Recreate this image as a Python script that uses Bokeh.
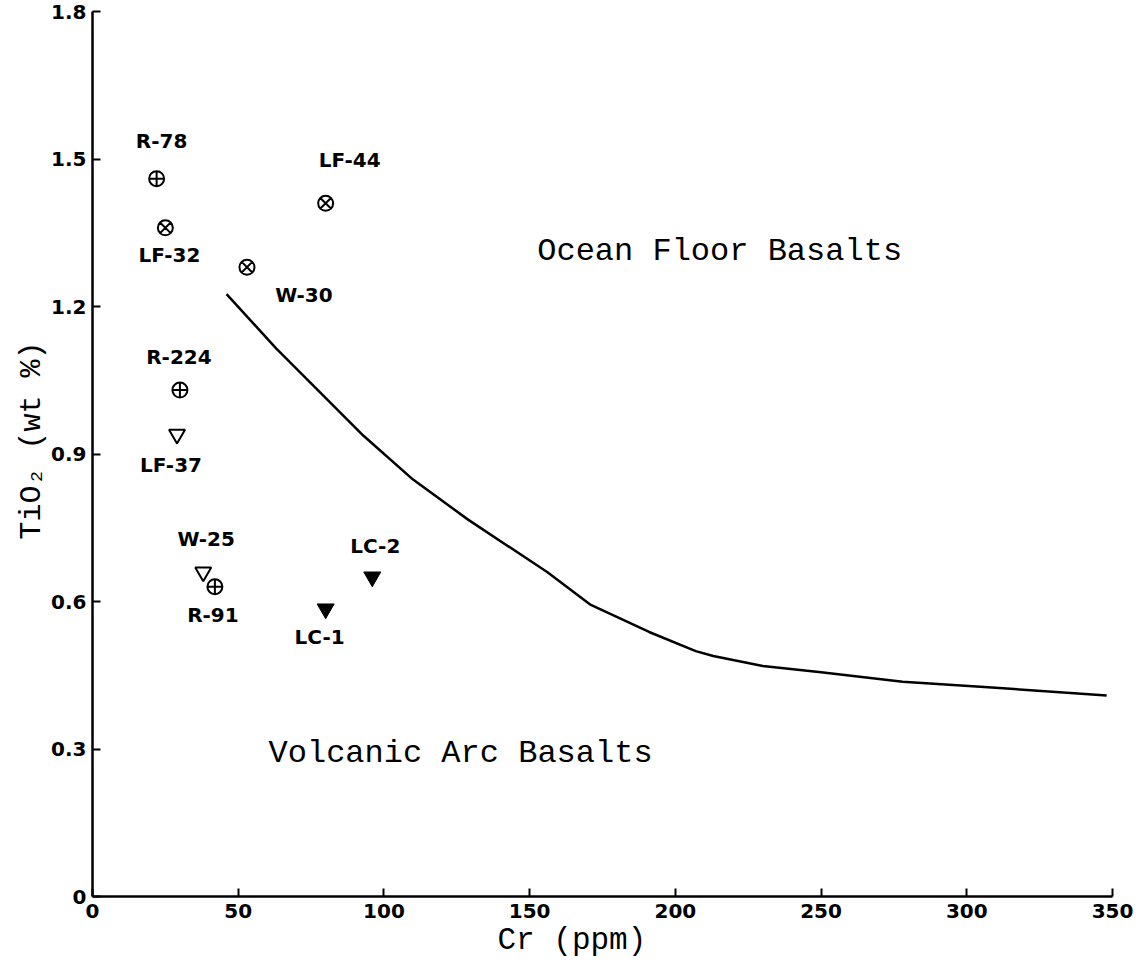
from bokeh.plotting import figure
from bokeh.models import Range1d, FixedTicker, Label, ColumnDataSource, Title
from bokeh.core.properties import value
from bokeh.embed import file_html
from bokeh.resources import INLINE

# ---- data -------------------------------------------------------------
sample_names = ["R-78", "LF-32", "W-30", "LF-44", "R-224", "LF-37", "W-25", "R-91", "LC-1", "LC-2"]
cr_ppm = [22, 25, 53, 80, 30, 29, 38, 42, 80, 96]
tio2_wt = [1.46, 1.36, 1.28, 1.41, 1.03, 0.94, 0.66, 0.63, 0.585, 0.65]
# symbol group of each sample: crossed circle (+), crossed circle (x), open / filled inverted triangle
sample_symbol = ["plus", "cross", "cross", "cross", "plus", "open_tri", "open_tri", "plus", "filled_tri", "filled_tri"]

boundary_cr = [46, 63, 93, 110, 129, 156, 171, 191, 207, 213, 230, 250, 278, 306, 348]
boundary_tio2 = [1.225, 1.115, 0.937, 0.848, 0.766, 0.66, 0.593, 0.538, 0.499, 0.489,
                 0.469, 0.456, 0.437, 0.426, 0.409]

x_ticks = [0, 50, 100, 150, 200, 250, 300, 350]
y_ticks = [0, 0.3, 0.6, 0.9, 1.2, 1.5, 1.8]
y_tick_labels = ["0", "0.3", "0.6", "0.9", "1.2", "1.5", "1.8"]

# label offsets in screen pixels (layout only)
label_dx = [5, 4, 57, 24, -1, -6, 3, -2, -6, 3]
label_dy = [-38, 27, 28, -43, -33, 31, -33, 28, 28, -31]

# ---- figure -----------------------------------------------------------
W, H = 1136, 962
FRAME_L, FRAME_R, FRAME_T, FRAME_B = 92, 1112, 11, 896
p = figure(width=W, height=H, x_range=Range1d(0, 350), y_range=Range1d(0, 1.8),
           output_backend="svg", toolbar_location=None,
           min_border_left=FRAME_L, min_border_right=W - FRAME_R, min_border_top=FRAME_T,
           min_border_bottom=H - FRAME_B)
p.xgrid.visible = False
p.ygrid.visible = False
p.outline_line_color = None
p.background_fill_color = "white"
p.border_fill_color = "white"

p.xaxis.ticker = FixedTicker(ticks=x_ticks)
p.yaxis.ticker = FixedTicker(ticks=y_ticks)
p.yaxis.major_label_overrides = dict(zip(y_ticks, y_tick_labels))
p.xaxis.major_label_overrides = {t: str(t) for t in x_ticks}
for ax in (p.xaxis[0], p.yaxis[0]):
    ax.axis_line_width = 2.5
    ax.axis_line_color = "black"
    ax.major_tick_in = 8
    ax.major_tick_out = 0
    ax.major_tick_line_width = 2
    ax.major_tick_line_color = "black"
    ax.minor_tick_line_color = None
    ax.major_label_text_font = "DejaVu Sans"
    ax.major_label_text_font_style = "bold"
    ax.major_label_text_font_size = "20px"
    ax.major_label_text_color = "black"
p.xaxis.major_label_standoff = 7
p.yaxis.major_label_standoff = 6

mono = "Liberation Mono"
ytitle = Title(text="TiO\u2082 (wt %)", align="left", offset=357, standoff=0,
               text_font=mono, text_font_size="30px", text_font_style="normal",
               text_color="black")
p.add_layout(ytitle, "left")
xtitle = Title(text="Cr (ppm)", align="left", offset=405, standoff=0,
               text_font=mono, text_font_size="31px", text_font_style="normal",
               text_color="black")
p.add_layout(xtitle, "below")

# boundary curve
p.line(boundary_cr, boundary_tio2, line_color="black", line_width=2.5)

# samples
def subset(sym):
    idx = [i for i, s in enumerate(sample_symbol) if s == sym]
    return ColumnDataSource(dict(x=[cr_ppm[i] for i in idx], y=[tio2_wt[i] for i in idx]))

p.scatter("x", "y", source=subset("plus"), marker="circle_cross", size=15,
          fill_color=None, line_color="black", line_width=2)
p.scatter("x", "y", source=subset("cross"), marker="circle_x", size=15,
          fill_color=None, line_color="black", line_width=2)
p.scatter("x", "y", source=subset("open_tri"), marker="inverted_triangle", size=16,
          fill_color=None, line_color="black", line_width=2)
p.scatter("x", "y", source=subset("filled_tri"), marker="inverted_triangle", size=17,
          fill_color="black", line_color="black", line_width=1)

src = ColumnDataSource(dict(x=cr_ppm, y=tio2_wt, name=sample_names, dx=label_dx, dy=label_dy))
p.text("x", "y", text="name", source=src, x_offset="dx", y_offset="dy",
       text_align="center", text_baseline="middle",
       text_font=value("DejaVu Sans"), text_font_style="bold",
       text_font_size="20px", text_color="black")

p.add_layout(Label(x=215.2, y=1.312, text="Ocean Floor Basalts", text_font=mono,
                   text_font_size="32px", text_align="center", text_baseline="middle",
                   text_color="black"))
p.add_layout(Label(x=126.3, y=0.29, text="Volcanic Arc Basalts", text_font=mono,
                   text_font_size="32px", text_align="center", text_baseline="middle",
                   text_color="black"))

open("out.html", "w").write(file_html(p, INLINE))
